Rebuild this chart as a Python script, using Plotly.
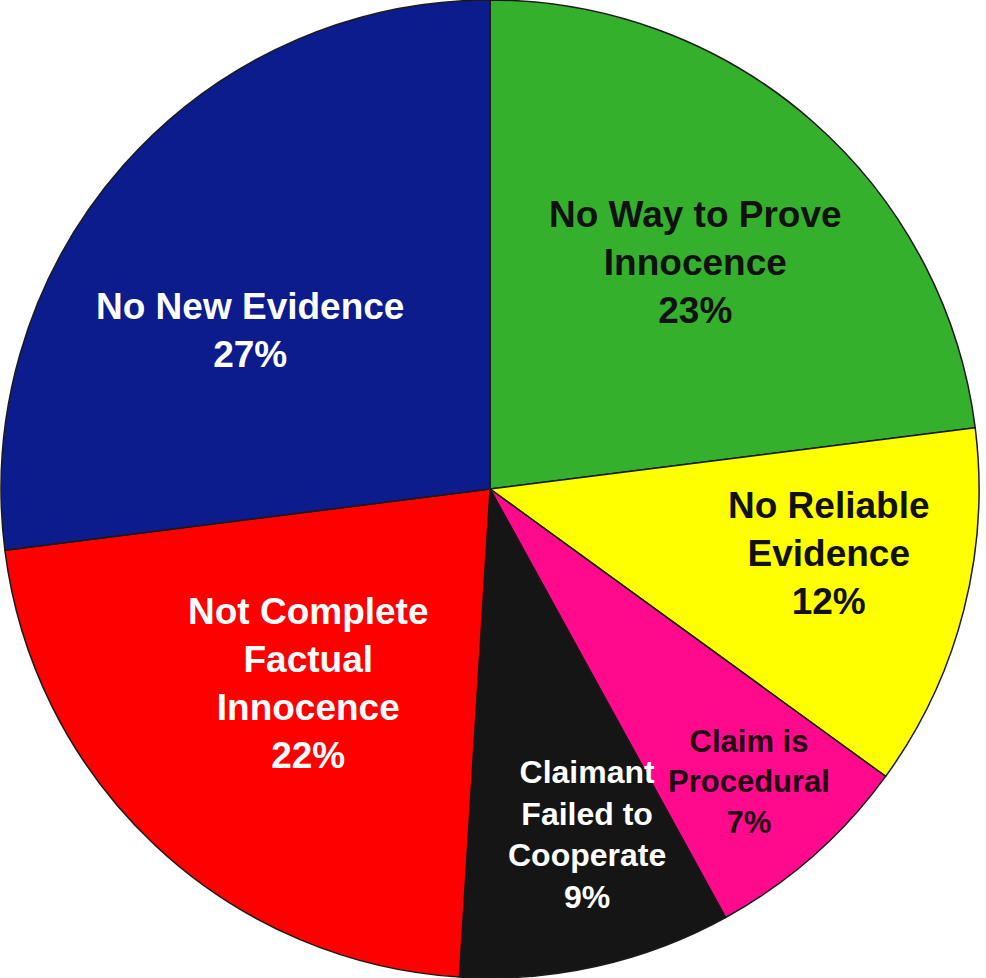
import math
import plotly.graph_objects as go

# Data
categories = [
    "No Way to Prove<br>Innocence",
    "No Reliable<br>Evidence",
    "Claim is<br>Procedural",
    "Claimant<br>Failed to<br>Cooperate",
    "Not Complete<br>Factual<br>Innocence",
    "No New Evidence",
]
values = [23, 12, 7, 9, 22, 27]

# Styles
slice_colors = ["#34b02c", "#ffff00", "#ff0a8c", "#151515", "#ff0000", "#0c1c8c"]
text_colors = ["#111111", "#111111", "#220812", "#ffffff", "#ffffff", "#ffffff"]
font_sizes = [37, 37, 31, 32, 37, 37]
label_r = [0.625, 0.705, 0.80, 0.733, 0.544, 0.589]
label_da = [0.9, -3.7, 0.0, -3.1, -0.3, -7.9]

W, H = 986, 978
dom_x = [0.0, 0.994]
cx = (dom_x[0] + dom_x[1]) / 2 * W
cy = H / 2
R = min((dom_x[1] - dom_x[0]) * W, H) / 2

fig = go.Figure(go.Pie(
    labels=categories,
    values=values,
    sort=False,
    direction="clockwise",
    rotation=0,
    marker=dict(colors=slice_colors, line=dict(color="#1a1a1a", width=1.5)),
    textinfo="none",
    hoverinfo="label+percent",
    showlegend=False,
    domain=dict(x=dom_x, y=[0, 1]),
))

total = sum(values)
cum = 0
annotations = []
for i, (lab, v) in enumerate(zip(categories, values)):
    mid = (cum + v / 2) / total * 360 + label_da[i]
    cum += v
    r = label_r[i] * R
    px = cx + r * math.sin(math.radians(mid))
    py = cy - r * math.cos(math.radians(mid))
    annotations.append(dict(
        x=px / W, y=1 - py / H, xref="paper", yref="paper",
        xanchor="center", yanchor="middle", showarrow=False,
        text=f"{lab}<br>{v}%",
        font=dict(family="Liberation Sans, Arial, sans-serif", size=font_sizes[i],
                  color=text_colors[i], weight="bold"),
        align="center",
    ))

fig.update_layout(
    width=W, height=H,
    margin=dict(l=0, r=0, t=0, b=0),
    paper_bgcolor="white",
    plot_bgcolor="white",
    annotations=annotations,
)

fig.write_html("out.html", config={"displayModeBar": False},
               post_script="document.body.style.margin='0';")
